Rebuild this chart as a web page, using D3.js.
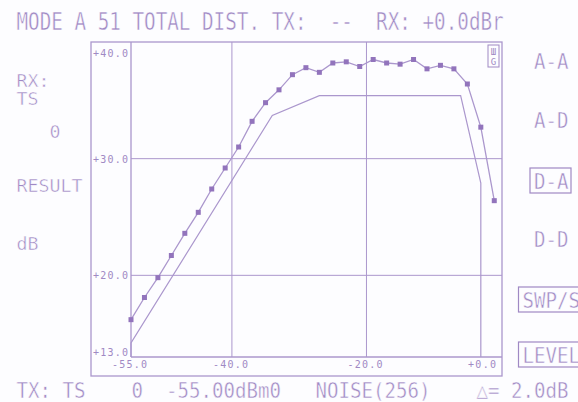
<!DOCTYPE html>
<html>
<head>
<meta charset="utf-8">
<script src="https://cdn.jsdelivr.net/npm/d3@7"></script>
<style>
  html, body { margin: 0; padding: 0; background: #fdfdff; }
  svg text { white-space: pre; }
</style>
</head>
<body>
<svg id="chart"></svg>
<script>
// sweep level (dBm0) and measured total distortion (dB)
const sweepLevel = [-55, -53, -51, -49, -47, -45, -43, -41, -39, -37, -35, -33, -31, -29,
                    -27, -25, -23, -21, -19, -17, -15, -13, -11, -9, -7, -5, -3, -1];
const resultDb = [16.2, 18.1, 19.8, 21.7, 23.6, 25.4, 27.4, 29.2, 31.0, 33.2, 34.8, 35.9, 37.2, 37.8,
                  37.4, 38.2, 38.3, 37.9, 38.5, 38.2, 38.1, 38.5, 37.7, 38.0, 37.7, 36.4, 32.7, 26.4];
// limit mask
const maskLevel = [-55, -55, -34, -27, -6, -3, -3];
const maskDb = [13, 14.2, 33.7, 35.4, 35.4, 27.9, 13];

const xTicks = [-55, -40, -20, 0];
const xTickLabels = ["-55.0", "-40.0", "-20.0", "+0.0"];
const yTicks = [40, 30, 20, 13];
const yTickLabels = ["+40.0", "+30.0", "+20.0", "+13.0"];
const xGrid = [-40, -20];
const yGrid = [30, 20];

const headerText = [["MODE A 51 TOTAL DIST.", 0], ["TX:", 22], ["--", 27], ["RX:", 31], ["+0.0dBr", 35]];
const footerText = [["TX:", 0], ["TS", 4], ["0", 10], ["-55.00dBm0", 13], ["NOISE(256)", 26], ["\u25B3=", 40], ["2.0dB", 43]];
const leftText = [["RX:", 0, 87], ["TS", 0, 105], ["0", 3, 138], ["RESULT", 0, 192], ["dB", 0, 250]];
const rightText = [["A-A", 45, 69, false], ["A-D", 45, 128, false], ["D-A", 45, 189, true],
                   ["D-D", 45, 247, false], ["SWP/S", 44, 308, true], ["LEVEL", 44, 363, true]];

const width = 578, height = 402;
const bg = "#fdfdff";
const textColor = "#a089c4";
const lineColor = "#ab97cd";
const markColor = "#9274bc";
const pitch = 11.5, col0 = 16.5;
const monoAdvance = 0.602; // DejaVu Sans Mono advance per em

const svg = d3.select("#chart").attr("width", width).attr("height", height);

const x = d3.scaleLinear().domain([-55, 0]).range([131, 501]);
const y = d3.scaleLinear().domain([13, 40]).range([357, 42]);

// frames
svg.append("rect")
    .attr("x", 91).attr("y", 42).attr("width", 411).attr("height", 334)
    .attr("fill", "none").attr("stroke", lineColor).attr("stroke-width", 1.3);
svg.append("line")
    .attr("x1", x(-55)).attr("x2", x(-55)).attr("y1", y(40)).attr("y2", y(13))
    .attr("stroke", lineColor).attr("stroke-width", 1.3);
svg.append("line")
    .attr("x1", x(-55)).attr("x2", 502).attr("y1", y(13)).attr("y2", y(13))
    .attr("stroke", lineColor).attr("stroke-width", 1.3);

// grid
svg.append("g").selectAll("line").data(xGrid).enter().append("line")
    .attr("x1", d => x(d)).attr("x2", d => x(d)).attr("y1", y(40)).attr("y2", y(13))
    .attr("stroke", lineColor).attr("stroke-width", 1);
svg.append("g").selectAll("line").data(yGrid).enter().append("line")
    .attr("x1", x(-55)).attr("x2", 502).attr("y1", d => y(d)).attr("y2", d => y(d))
    .attr("stroke", lineColor).attr("stroke-width", 1);

// tick labels
const smallFont = "DejaVu Sans Mono, monospace";
yTicks.forEach(function (v, i) {
    let dy = 4;
    if (i == 0) dy = 15;
    if (i == yTicks.length - 1) dy = -1;
    svg.append("text")
        .attr("x", 93).attr("y", y(v) + dy)
        .attr("font-family", smallFont).attr("font-size", 10)
        .attr("fill", textColor)
        .attr("textLength", 35).attr("lengthAdjust", "spacing")
        .text(yTickLabels[i]);
});
xTicks.forEach(function (v, i) {
    let t = svg.append("text")
        .attr("y", 368)
        .attr("font-family", smallFont).attr("font-size", 10)
        .attr("fill", textColor)
        .attr("lengthAdjust", "spacing")
        .text(xTickLabels[i]);
    if (i == xTicks.length - 1) {
        t.attr("x", x(v) - 33).attr("textLength", 28);
    } else {
        t.attr("x", x(v) - 19).attr("textLength", 35);
    }
});

// mask curve
const line = d3.line().x(d => x(d[0])).y(d => y(d[1]));
svg.append("path")
    .datum(maskLevel.map((v, i) => [v, maskDb[i]]))
    .attr("d", line)
    .attr("fill", "none").attr("stroke", lineColor).attr("stroke-width", 1.2);

// measured curve
const pts = sweepLevel.map((v, i) => [v, resultDb[i]]);
svg.append("path")
    .datum(pts)
    .attr("d", line)
    .attr("fill", "none").attr("stroke", lineColor).attr("stroke-width", 1.3);
svg.append("g").selectAll("rect").data(pts).enter().append("rect")
    .attr("x", d => x(d[0]) - 2.5).attr("y", d => y(d[1]) - 2.5)
    .attr("width", 5).attr("height", 5)
    .attr("fill", markColor);

// small logo box in plot corner
svg.append("rect")
    .attr("x", 488).attr("y", 45).attr("width", 11).attr("height", 22)
    .attr("fill", "none").attr("stroke", textColor).attr("stroke-width", 1);
svg.append("text").attr("x", 493.5).attr("y", 55).attr("text-anchor", "middle")
    .attr("font-family", smallFont).attr("font-size", 9)
    .attr("fill", textColor).text("\u0428");
svg.append("text").attr("x", 493.5).attr("y", 65).attr("text-anchor", "middle")
    .attr("font-family", smallFont).attr("font-size", 9)
    .attr("fill", textColor).text("G");

// big monospaced screen text, squeezed horizontally to the screen's character pitch
function monoText(str, col, baseline, size, p) {
    size = size || 22;
    p = p || pitch;
    let sx = p / (monoAdvance * size);
    return svg.append("text")
        .attr("transform", "translate(" + (col0 + col * p) + "," + baseline + ") scale(" + sx + ",1)")
        .attr("font-family", "DejaVu Sans Mono, monospace").attr("font-size", size)
        .attr("fill", textColor)
        .attr("stroke", bg).attr("stroke-width", 0.5)
        .text(str);
}
headerText.forEach(d => monoText(d[0], d[1], 30, 24, 11.6));
footerText.forEach(d => monoText(d[0], d[1], 398));
leftText.forEach(d => monoText(d[0], d[1], d[2], 18, 11));
rightText.forEach(function (d) {
    monoText(d[0], d[1], d[2]);
    if (d[3]) {
        let bx = col0 + d[1] * pitch - 4;
        let bw = d[0].length == 3 ? 41 : 70;
        svg.append("rect")
            .attr("x", bx).attr("y", d[2] - 21).attr("width", bw).attr("height", 25)
            .attr("fill", "none").attr("stroke", textColor).attr("stroke-width", 1.2);
    }
});
</script>
</body>
</html>
